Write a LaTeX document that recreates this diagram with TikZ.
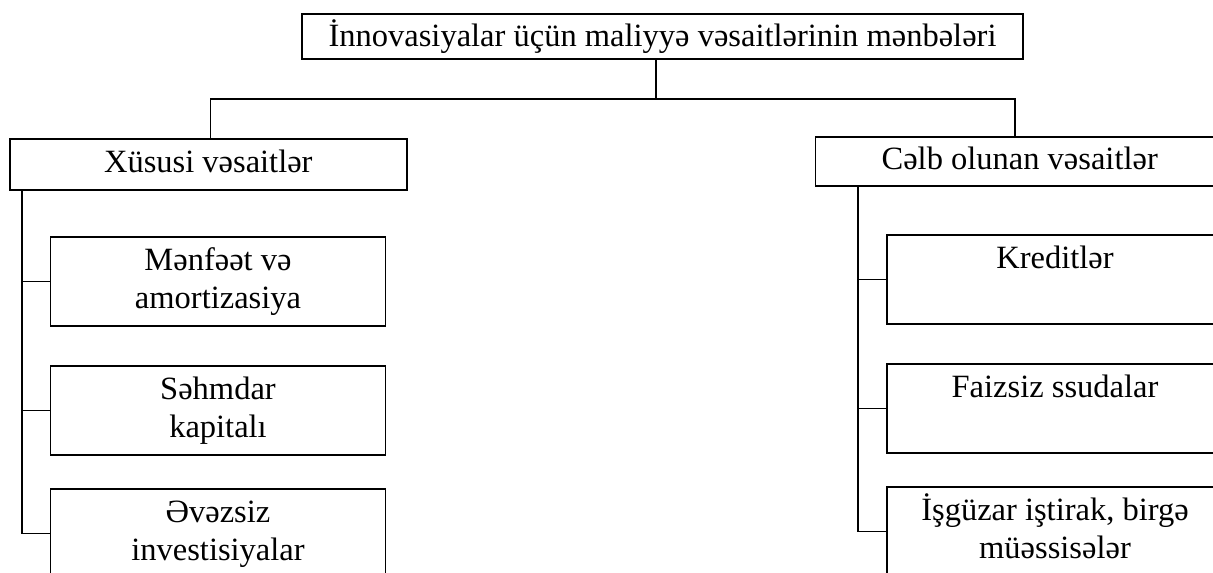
\documentclass[tikz,border=0pt]{standalone}
\usepackage{fontspec}
\setmainfont{Liberation Serif}
\newcommand\sx{\vphantom{dp}}
\begin{document}
\begin{tikzpicture}[x=0.5pt,y=-0.5pt,
  box/.style={draw,line width=0.9pt,inner sep=0pt,align=center,
    font=\fontsize{16.25pt}{19pt}\selectfont},
  conn/.style={line width=0.9pt}]
\useasboundingbox (0,0) rectangle (1213,572);
\clip (0,0) rectangle (1213,572);
% boxes
\node[box,minimum width=360.5pt,minimum height=22.35pt] (top) at (662.5,36.4)
  {İnnovasiyalar üçün maliyyə vəsaitlərinin mənbələri\sx};
\node[box,minimum width=198.7pt,minimum height=25.5pt] (xus) at (208.3,164.5)
  {Xüsusi vəsaitlər\sx};
\node[box,minimum width=204.3pt,minimum height=24.5pt] (cel) at (1019.7,161.5)
  {Cəlb olunan vəsaitlər\sx};
\node[box,minimum width=167.5pt,minimum height=44.5pt] (m1) at (218,281.5)
  {Mənfəət və\sx\\amortizasiya\sx};
\node[box,minimum width=167.5pt,minimum height=44.5pt] (m2) at (218,410.5)
  {Səhmdar\sx\\kapitalı\sx};
\node[box,minimum width=167.5pt,minimum height=44.5pt] (m3) at (218,533.5)
  {\smash{Ə}vəzsiz\sx\\investisiyalar\sx};
\node[box,minimum width=168pt,minimum height=44.5pt] (c1) at (1055,279.5)
  {Kreditlər\sx\\\sx};
\node[box,minimum width=168pt,minimum height=44.5pt] (c2) at (1055,408.5)
  {Faizsiz ssudalar\sx\\\sx};
\node[box,minimum width=168pt,minimum height=44.5pt] (c3) at (1055,531.5)
  {\smash{İ}şgüzar iştirak, birgə\sx\\müəssisələr\sx};
% connectors
\coordinate (jt) at (656,99);
\coordinate (jl) at (210.5,99);
\coordinate (jr) at (1015,99);
\draw[conn] (top.south -| jt) -- (jt);
\draw[conn] (xus.north -| jl) -- (jl) -- (jr) -- (cel.north -| jr);
\coordinate (ls) at (22,0);
\draw[conn] (xus.south -| ls) |- (m3.west);
\draw[conn] (m1.west -| ls) -- (m1.west);
\draw[conn] (m2.west -| ls) -- (m2.west);
\coordinate (rs) at (858,0);
\draw[conn] (cel.south -| rs) |- (c3.west);
\draw[conn] (c1.west -| rs) -- (c1.west);
\draw[conn] (c2.west -| rs) -- (c2.west);
\end{tikzpicture}
\end{document}
